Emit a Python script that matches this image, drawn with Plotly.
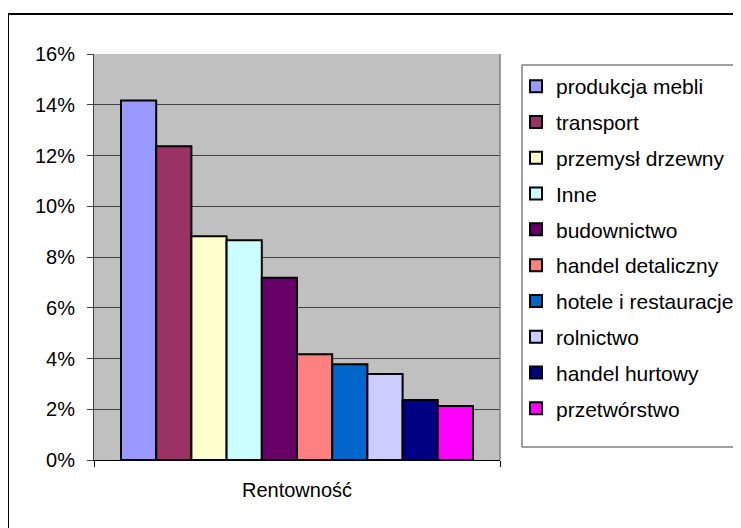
import plotly.graph_objects as go

categories = ["Rentowność"]
sectors = ["produkcja mebli", "transport", "przemysł drzewny", "Inne", "budownictwo",
           "handel detaliczny", "hotele i restauracje", "rolnictwo", "handel hurtowy", "przetwórstwo"]
values = [0.1417, 0.1236, 0.0882, 0.0866, 0.0718, 0.0417, 0.0377, 0.0339, 0.0236, 0.0213]
colors = ["#9999FF", "#993366", "#FFFFCC", "#CCFFFF", "#660066",
          "#FF8080", "#0066CC", "#CCCCFF", "#000080", "#FF00FF"]
y_ticks = [0, 0.02, 0.04, 0.06, 0.08, 0.10, 0.12, 0.14, 0.16]

# page body has an 8px default margin; lay out in page pixels
OFF = 8
W, H = 741 - OFF, 528 - OFF
PL, PT, PR, PB = 94, 54, 500, 460  # plot area in page pixels
L, T = PL - OFF, PT - OFF
pw, ph = PR - PL, PB - PT
R, B = W - L - pw, H - T - ph

def px(x):
    return (x - PL) / pw

def py(y):
    return (PB - y) / ph

fig = go.Figure()
for i, (name, v, c) in enumerate(zip(sectors, values, colors)):
    fig.add_trace(go.Bar(
        x=categories, y=[v], name=name, legendgroup=str(i),
        marker=dict(color=c, line=dict(color="#000000", width=2)),
    ))

font = "Liberation Sans, Arial, sans-serif"
fig.update_layout(
    width=W, height=H,
    margin=dict(l=L, r=R, t=T, b=B, autoexpand=False),
    paper_bgcolor="white", plot_bgcolor="#C0C0C0",
    barmode="group", bargap=0.133, bargroupgap=0,
    font=dict(family=font, size=20, color="black"),
    showlegend=True,
    legend=dict(
        x=px(516), y=py(66), xanchor="left", yanchor="top",
        borderwidth=0, bgcolor="rgba(0,0,0,0)",
        font=dict(family=font, size=21, color="black"),
        traceorder="grouped", tracegroupgap=5.5,
    ),
    xaxis=dict(
        showline=True, linecolor="black", linewidth=1,
        ticks="outside", tickson="boundaries", ticklen=6, tickcolor="black",
        tickfont=dict(family=font, size=20), showgrid=False,
        range=[-0.5, 0.5], ticklabelstandoff=12,
    ),
    yaxis=dict(
        range=[0, 0.16], tickvals=y_ticks, tickformat=".0%",
        showline=True, linecolor="#404040", linewidth=1,
        ticks="outside", ticklen=6, tickcolor="#404040",
        showgrid=True, gridcolor="#404040", gridwidth=1,
        tickfont=dict(family=font, size=20), zeroline=False,
        ticklabelstandoff=8,
    ),
    shapes=[
        dict(type="line", xref="paper", yref="paper", x0=1, x1=1, y0=0, y1=1,
             line=dict(color="#808080", width=1.5)),
        dict(type="rect", xref="paper", yref="paper",
             x0=px(522), x1=px(760), y0=py(447), y1=py(65),
             line=dict(color="#404040", width=1), fillcolor="white"),
        dict(type="rect", xref="paper", yref="paper",
             x0=px(8), x1=px(760), y0=py(545), y1=py(14),
             line=dict(color="black", width=2), fillcolor="rgba(0,0,0,0)"),
    ],
)

fig.write_html("out.html")
